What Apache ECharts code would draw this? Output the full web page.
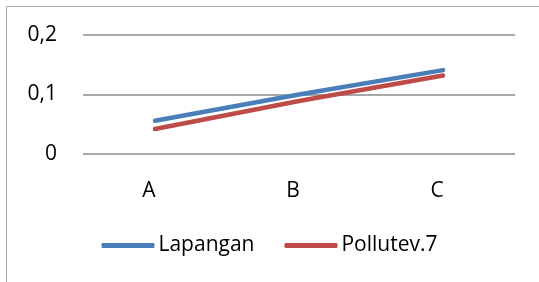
<!DOCTYPE html>
<html lang="en">
  <head>
    <meta charset="UTF-8" />
    <title>Lapangan vs Pollutev.7</title>
    <script src="https://cdn.jsdelivr.net/npm/echarts@6.0.0/dist/echarts.min.js"></script>
    <style>
      html, body { margin: 0; padding: 0; background: #fff; }
    </style>
  </head>
  <body>
    <div id="main" style="width: 539px; height: 282px"></div>

    <script type="text/javascript">
      const categories = ["A", "B", "C"];
      const lapangan = [0.056, 0.1, 0.141];
      const pollutev7 = [0.042, 0.089, 0.132];
      const seriesNames = ["Lapangan", "Pollutev.7"];

      const font = "'Open Sans', Lato, sans-serif";
      let myChart = echarts.init(document.getElementById("main"));

      const options = {
        animation: false,
        graphic: [
          {
            type: "rect",
            shape: { x: 6.5, y: 6.5, width: 700, height: 500 },
            style: { fill: "none", stroke: "#a6a6a6", lineWidth: 1 },
            silent: true,
          },
        ],
        grid: { left: 83, right: 24, top: 35, bottom: 128 },
        legend: {
          bottom: 21,
          left: "center",
          icon: "roundRect",
          itemWidth: 53,
          itemHeight: 5,
          itemGap: 30,
          textStyle: { fontFamily: font, fontSize: 21, color: "#000", padding: [0, 0, 0, -1] },
          data: seriesNames,
        },
        xAxis: {
          type: "category",
          data: categories,
          axisLine: { show: false },
          axisTick: { show: false },
          axisLabel: {
            fontFamily: font,
            fontSize: 21,
            color: "#000",
            margin: 27,
            padding: [0, 12, 0, 0],
          },
        },
        yAxis: {
          type: "value",
          min: 0,
          max: 0.2,
          interval: 0.1,
          axisLine: { show: false },
          axisTick: { show: false },
          axisLabel: {
            fontFamily: font,
            fontSize: 21,
            color: "#000",
            margin: 26,
            formatter: (v) => (v === 0 ? "0" : v.toFixed(1).replace(".", ",")),
          },
          splitLine: { lineStyle: { color: "#8c8c8c", width: 1.5 } },
        },
        series: [
          {
            name: seriesNames[0],
            type: "line",
            data: lapangan,
            symbol: "none",
            lineStyle: { color: "#4a7ebb", width: 4.5, cap: "round" },
            itemStyle: { color: "#4a7ebb" },
          },
          {
            name: seriesNames[1],
            type: "line",
            data: pollutev7,
            symbol: "none",
            lineStyle: { color: "#be4b48", width: 4.5, cap: "round" },
            itemStyle: { color: "#be4b48" },
          },
        ],
      };

      myChart.setOption(options);
    </script>
  </body>
</html>
